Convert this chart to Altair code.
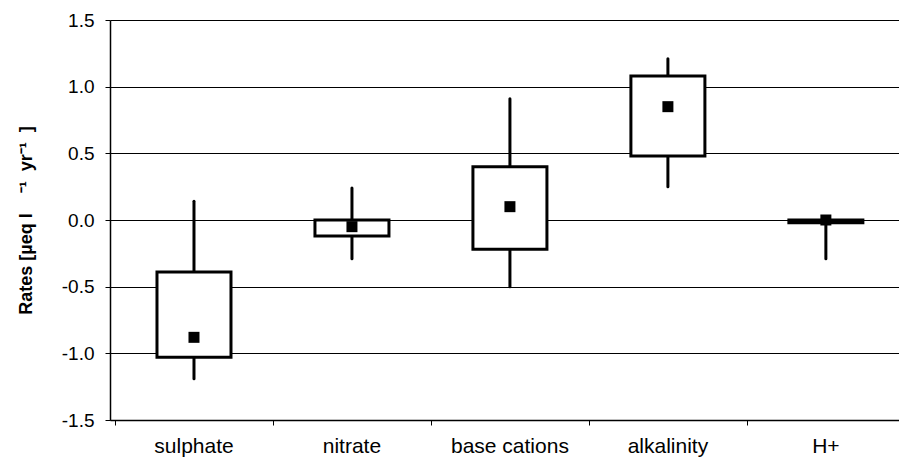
import altair as alt
import pandas as pd

# Rates of change per constituent (µeq l-1 yr-1)
categories = ["sulphate", "nitrate", "base cations", "alkalinity", "H+"]
whisker_low = [-1.19, -0.29, -0.50, 0.25, -0.29]
box_low = [-1.03, -0.12, -0.22, 0.48, -0.02]
box_high = [-0.39, 0.00, 0.40, 1.08, 0.00]
whisker_high = [0.14, 0.24, 0.91, 1.21, 0.00]
mean_rate = [-0.88, -0.05, 0.10, 0.85, 0.00]

y_ticks = [-1.5, -1.0, -0.5, 0.0, 0.5, 1.0, 1.5]

df = pd.DataFrame({
    "category": categories,
    "pos": [i + 0.5 for i in range(len(categories))],
    "wlo": whisker_low,
    "blo": box_low,
    "bhi": box_high,
    "whi": whisker_high,
    "mean": mean_rate,
})

FONT = "Liberation Sans"
PLOT_W, PLOT_H = 789, 400
STEP = 160  # pixel width of one category slot
NB = "\u00a0"

y_title = "Rates [µeq l" + NB * 4 + "⁻¹" + NB * 2 + "yr" + "⁻¹" + NB * 2 + "]"

x_enc = alt.X(
    "pos:Q",
    scale=alt.Scale(domain=[0, PLOT_W / STEP], nice=False, zero=False),
    axis=alt.Axis(values=[0, 1, 2, 3, 4], labels=False, title=None, grid=False,
                  tickSize=5, tickColor="black", domainColor="black",
                  domainWidth=1.5, tickWidth=1),
)
y_scale = alt.Scale(domain=[-1.5, 1.5], nice=False, zero=False)

base = alt.Chart(df)

whiskers = base.mark_rule(color="black", strokeWidth=3, strokeCap="round").encode(
    x=x_enc,
    y=alt.Y(
        "wlo:Q",
        scale=y_scale,
        axis=alt.Axis(
            values=y_ticks,
            labelExpr="replace(format(datum.value, '.1f'), '\u2212', '-')",
            title=y_title,
            titleFont=FONT, titleFontSize=18, titleFontWeight="bold",
            titleColor="black", titlePadding=26,
            labelFont=FONT, labelFontSize=19, labelColor="black",
            labelPadding=11, tickSize=5, tickColor="black",
            domainColor="black", domainWidth=1.5,
            grid=True, gridColor="black", gridWidth=1,
        ),
    ),
    y2="whi:Q",
)

boxes = base.mark_bar(size=74, fill="white", stroke="black", strokeWidth=3).encode(
    x=alt.X("pos:Q"),
    y=alt.Y("blo:Q"),
    y2="bhi:Q",
)

means = base.mark_square(size=121, color="black", opacity=1).encode(
    x=alt.X("pos:Q"),
    y=alt.Y("mean:Q"),
)

labels = base.mark_text(font=FONT, fontSize=21, color="black", baseline="alphabetic").encode(
    x=alt.X("pos:Q"),
    y=alt.value(PLOT_H + 33),
    text="category:N",
)

chart = (
    alt.layer(whiskers, boxes, means, labels)
    .properties(
        width=PLOT_W,
        height=PLOT_H,
        padding={"left": 110, "top": 20, "right": 0, "bottom": 43},
        autosize=alt.AutoSizeParams(type="none"),
        background="white",
    )
    .configure_view(stroke=None)
)

chart.save("out.html", embed_options={"renderer": "svg", "actions": False})
